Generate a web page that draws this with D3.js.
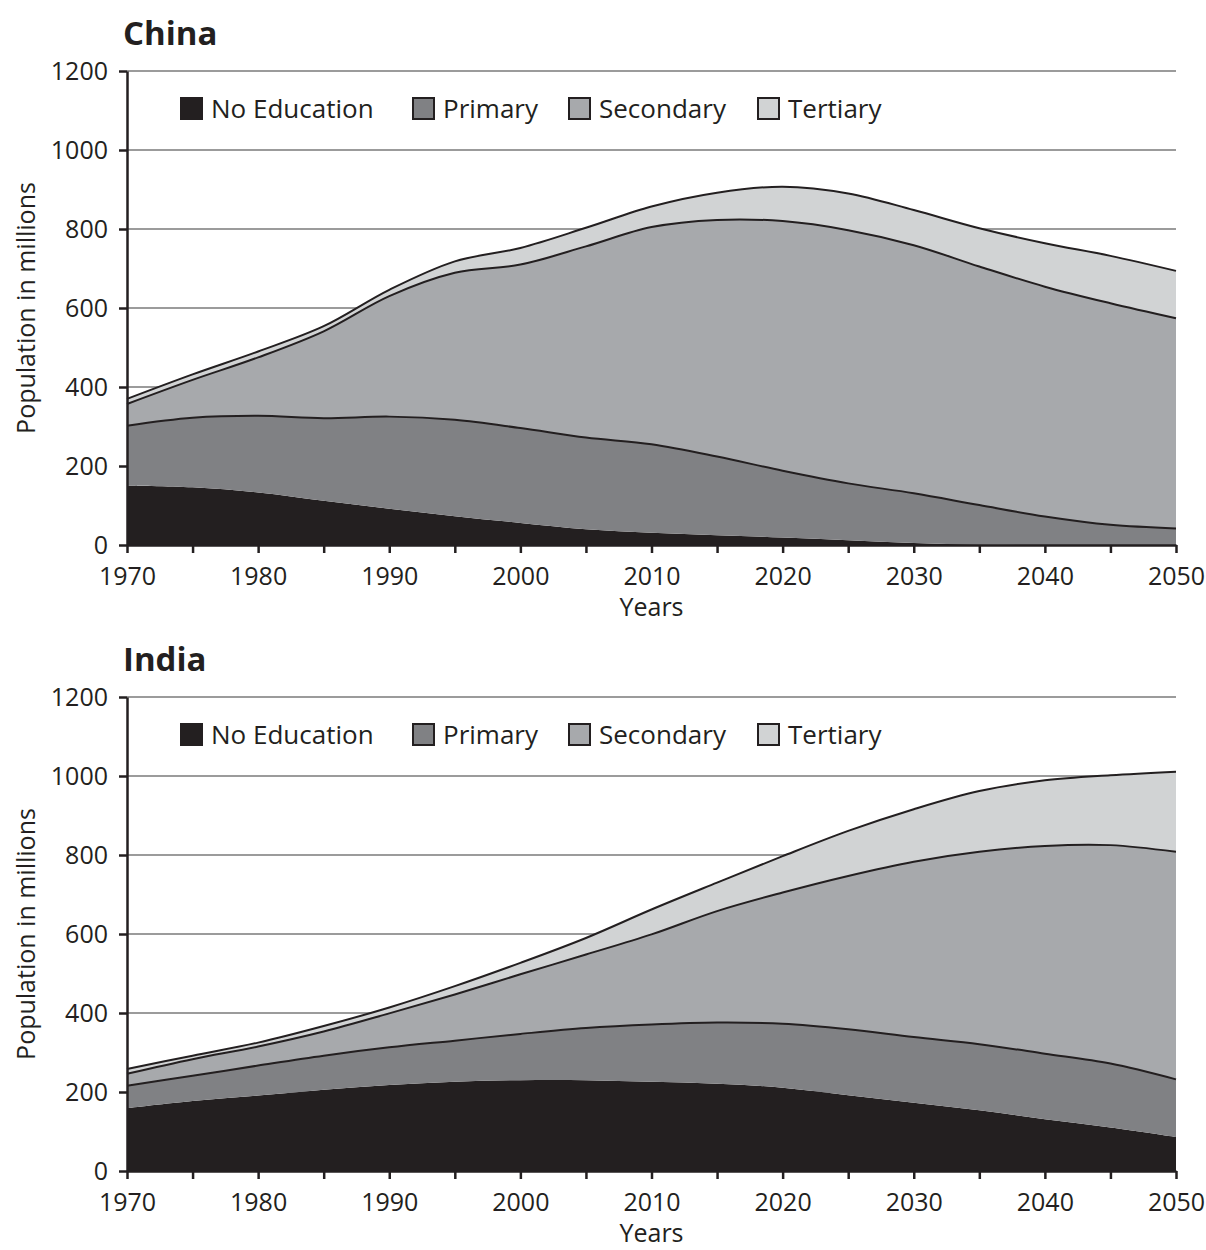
<!DOCTYPE html>
<html>
<head>
<meta charset="utf-8">
<script src="https://cdn.jsdelivr.net/npm/d3@7"></script>
<style>
  body { margin: 0; background: #fff; }
  svg { display: block; font-family: "Open Sans", sans-serif; }
  .tick text { fill: #231f20; }
</style>
</head>
<body>
<svg width="1206" height="1250"></svg>
<script>
var years = [1970,1975,1980,1985,1990,1995,2000,2005,2010,2015,2020,2025,2030,2035,2040,2045,2050];
var categories = ["No Education","Primary","Secondary","Tertiary"];

// population in millions (per level, not stacked)
var chinaNoEducation = [150,146,133,112,92,73,56,40,31,25,19,12,5,1,0,0,0];
var chinaPrimary     = [152,176,194,209,233,244,240,232,224,199,169,144,126,100,72,51,42];
var chinaSecondary   = [55,96,148,220,305,372,414,484,550,599,632,641,628,604,582,561,532];
var chinaTertiary    = [13,14,15,13,16,29,42,47,52,69,87,93,89,97,110,120,120];

var indiaNoEducation = [159,177,191,206,218,226,230,230,226,221,211,192,173,154,131,110,86];
var indiaPrimary     = [57,64,76,86,95,104,117,132,145,155,162,167,166,167,166,162,146];
var indiaSecondary   = [30,42,48,61,86,117,151,186,228,282,332,388,444,487,526,553,576];
var indiaTertiary    = [12,9,10,14,15,21,29,42,63,72,92,114,133,154,166,177,203];

var yTicks = [0,200,400,600,800,1000,1200];
var xTickLabels = [1970,1980,1990,2000,2010,2020,2030,2040,2050];

var colorDict = {
  'No Education':'#231f20',
  'Primary':'#808184',
  'Secondary':'#a7a9ac',
  'Tertiary':'#d1d3d4'
}

function makeRows(a, b, c, d){
  return years.map(function(yr, i){
    var r = {year: yr};
    r[categories[0]] = a[i];
    r[categories[1]] = b[i];
    r[categories[2]] = c[i];
    r[categories[3]] = d[i];
    return r;
  })
}

var svg = d3.select("svg");

var x = d3.scaleLinear().domain([1970,2050]).range([127,1176]);
var y = d3.scaleLinear().domain([0,1200]).range([545,71]);

var stack = d3.stack().keys(categories);
var curve = d3.curveCatmullRom.alpha(0.5);

function drawPanel(top, title, rows){
  var g = svg.append("g").attr("transform", "translate(0," + top + ")");
  var layers = stack(rows);

  // grid lines behind the areas
  g.append("g").selectAll("line")
    .data(yTicks.filter(function(d){ return d > 0; }))
    .enter().append("line")
      .attr("x1", x(1970)).attr("x2", x(2050))
      .attr("y1", function(d){ return y(d); })
      .attr("y2", function(d){ return y(d); })
      .style("stroke", "#9b9b9b")
      .style("stroke-width", 2);

  var area = d3.area()
    .curve(curve)
    .x(function(d){ return x(d.data.year); })
    .y0(function(d){ return y(d[0]); })
    .y1(function(d){ return y(d[1]); });

  var topLine = d3.line()
    .curve(curve)
    .x(function(d){ return x(d.data.year); })
    .y(function(d){ return y(d[1]); });

  g.append("g").selectAll("path")
    .data(layers)
    .enter().append("path")
      .attr("d", area)
      .attr("fill", function(d){ return colorDict[d.key]; });

  g.append("g").selectAll("path")
    .data(layers.slice(1))
    .enter().append("path")
      .attr("d", topLine)
      .attr("fill", "none")
      .style("stroke", "#231f20")
      .style("stroke-width", 2);

  // axes
  var yAxis = g.append("g")
    .attr("transform", "translate(" + x(1970) + ",0)")
    .call(d3.axisLeft(y).tickValues(yTicks).tickSize(8).tickSizeOuter(0).tickPadding(11)
      .tickFormat(d3.format("d")));
  var xAxis = g.append("g")
    .attr("transform", "translate(0," + y(0) + ")")
    .call(d3.axisBottom(x).tickValues(years).tickSize(8).tickSizeOuter(0).tickPadding(14)
      .tickFormat(function(d){ return xTickLabels.indexOf(d) >= 0 ? d : ""; }));

  [yAxis, xAxis].forEach(function(a){
    a.select(".domain").style("stroke", "#231f20").style("stroke-width", 2.5);
    a.selectAll(".tick line").style("stroke", "#231f20").style("stroke-width", 2.5);
    a.selectAll(".tick text").style("font-size", "25px").style("font-family", "Open Sans");
  })

  // title
  g.append("text")
    .attr("x", 123).attr("y", 45)
    .style("font-size", "33px").style("font-weight", "bold")
    .style("fill", "#231f20")
    .text(title);

  // axis titles
  g.append("text")
    .attr("x", (x(1970) + x(2050)) / 2).attr("y", 616)
    .attr("text-anchor", "middle")
    .style("font-size", "25px").style("fill", "#231f20")
    .text("Years");
  g.append("text")
    .attr("transform", "translate(35," + (y(0) + y(1200)) / 2 + ") rotate(-90)")
    .attr("text-anchor", "middle")
    .style("font-size", "25px").style("fill", "#231f20")
    .text("Population in millions");

  // legend
  var legendX = [180, 412, 568, 757];
  var legend = g.append("g").selectAll("g")
    .data(categories)
    .enter().append("g")
      .attr("transform", function(d, i){ return "translate(" + legendX[i] + ",97)"; });
  legend.append("rect")
    .attr("x", 1).attr("y", 1)
    .attr("width", 21).attr("height", 21)
    .attr("fill", function(d){ return colorDict[d]; })
    .style("stroke", "#231f20")
    .style("stroke-width", 2);
  legend.append("text")
    .attr("x", 31).attr("y", 21)
    .style("font-size", "26px").style("fill", "#231f20")
    .text(function(d){ return d; });
}

drawPanel(0, "China", makeRows(chinaNoEducation, chinaPrimary, chinaSecondary, chinaTertiary));
drawPanel(626, "India", makeRows(indiaNoEducation, indiaPrimary, indiaSecondary, indiaTertiary));
</script>
</body>
</html>
